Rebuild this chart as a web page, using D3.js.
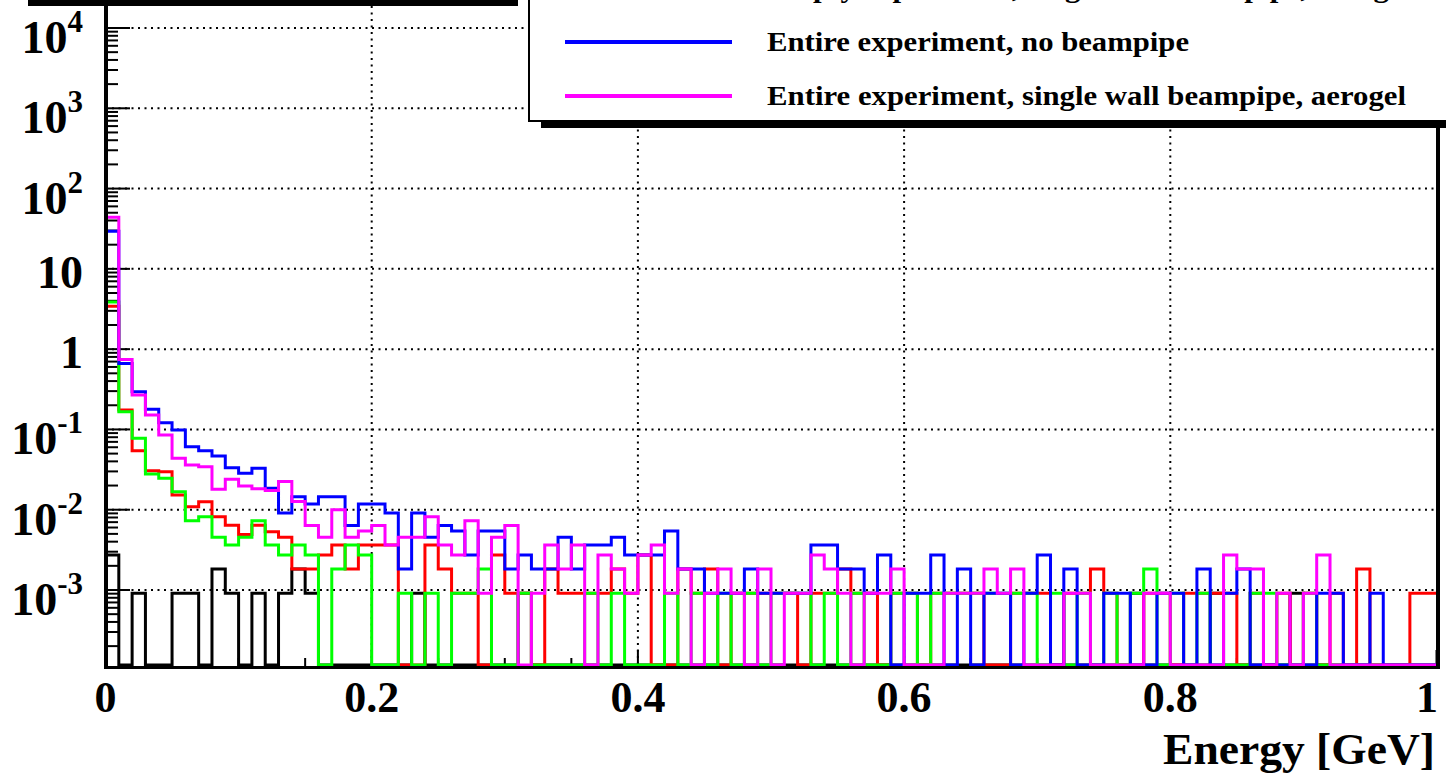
<!DOCTYPE html>
<html><head><meta charset="utf-8">
<script src="https://cdn.jsdelivr.net/npm/d3@7"></script>
<style>
html,body{margin:0;padding:0;background:#fff;}
svg{display:block;font-family:"Liberation Serif","Times New Roman",Times,serif;font-weight:bold;}
</style>
</head><body>
<svg id="chart" width="1446" height="773"></svg>
<script>
// ---------- data ----------
const nBins = 100, eMin = 0, eMax = 1;

const blackVals = [0.00273,0,0.00091,0,0,0.00091,0.00091,0,0.00182,0.00091,
0,0.00091,0,0.00091,0.00182,0.00091,0,0,0,0,
0,0,0,0.00091,0,0,0,0,0,0,
0,0.00091,0,0,0,0,0,0,0,0,
0,0,0,0,0,0,0,0,0,0,
0,0,0,0,0,0,0,0,0,0,
0,0,0,0,0,0,0,0,0,0,
0,0,0,0,0,0,0,0.00091,0,0,
0,0,0,0.00091,0,0,0,0,0,0.00091,
0,0,0,0,0,0,0,0,0,0];

const redVals = [3.43,0.174,0.0543,0.0306,0.0298,0.0153,0.0109,0.0126,0.0082,0.0064,
0.0049,0.0064,0.0053,0.00455,0.00182,0.00182,0.00273,0.00364,0.00182,0.00364,
0.00364,0.00364,0,0,0.00364,0.00182,0.00091,0.00091,0,0.00273,
0.00091,0.00091,0,0.00182,0.00091,0.00091,0.00091,0.00091,0.00182,0.00091,
0.00273,0,0,0.00182,0.00091,0.00182,0,0.00091,0.00091,0.00091,
0.00091,0.00091,0,0.00091,0.00091,0.00182,0.00091,0.00091,0,0.00091,
0.00091,0,0.00091,0.00091,0.00091,0.00091,0,0,0.00091,0.00091,
0.00091,0,0.00091,0.00091,0.00182,0.00091,0,0,0.00091,0.00091,
0,0.00091,0.00091,0.00091,0.00091,0,0.00091,0,0.00091,0,
0.00091,0,0.00091,0,0.00182,0,0,0,0.00091,0.00091];

const greenVals = [3.87,0.166,0.0774,0.0279,0.0246,0.0168,0.0073,0.0082,0.00455,0.00364,
0.00455,0.0073,0.00364,0.00273,0.00364,0.00273,0,0.00182,0.00364,0.00273,
0,0,0.00091,0,0.00091,0,0.00091,0.00091,0.00182,0,
0,0.00091,0,0,0,0,0.00091,0,0.00091,0,
0,0,0.00091,0,0.00091,0,0.00091,0,0.00091,0,
0.00091,0.00091,0.00091,0,0.00091,0,0.00091,0,0,0.00091,
0.00091,0,0.00091,0.00091,0.00091,0.00091,0.00091,0.00091,0.00091,0.00091,
0,0.00091,0,0.00091,0,0.00091,0,0.00091,0.00182,0,
0.00091,0,0.00091,0,0,0,0.00091,0.00091,0,0,
0.00091,0,0,0,0,0,0,0,0,0];

const blueVals = [29.3,0.664,0.294,0.178,0.121,0.0984,0.061,0.0543,0.0467,0.0334,
0.0284,0.0328,0.0185,0.00909,0.01455,0.0118,0.01455,0.01455,0.00636,0.0118,
0.0118,0.00909,0.00182,0.00909,0.00455,0.00636,0.00545,0.00273,0.00545,0.00545,
0.00182,0.00273,0.00182,0.00182,0.00455,0.00182,0.00364,0.00364,0.00455,0.00273,
0.00273,0.00273,0.00545,0.00182,0.00182,0.00091,0.00091,0.00091,0.00182,0.00091,
0.00091,0.00091,0.00091,0.00364,0.00364,0.00182,0.00182,0.00091,0.00273,0,
0.00091,0.00091,0.00273,0,0.00182,0,0.00091,0.00091,0,0.00091,
0.00273,0,0.00182,0,0,0.00091,0.00091,0,0,0.00091,
0.00091,0,0.00182,0,0.00091,0.00182,0,0,0,0,
0,0.00091,0.00091,0,0,0.00091,0,0,0,0];

const magentaVals = [44,0.745,0.268,0.151,0.0852,0.0437,0.036,0.0344,0.018,0.0239,
0.0198,0.0183,0.0173,0.0224,0.0127,0.00636,0.00455,0.01,0.00455,0.00545,
0.00636,0.00364,0.00455,0.00455,0.00818,0.00364,0.00273,0.00727,0.00091,0.00455,
0.00636,0,0.00091,0.00364,0.00182,0.00364,0,0.00273,0.00182,0.00091,
0.00273,0.00364,0.00091,0.00182,0,0.00091,0.00182,0.00091,0,0.00182,
0,0.00091,0.00091,0.00273,0.00182,0.00091,0,0.00091,0.00091,0.00182,
0,0,0,0.00091,0.00091,0.00091,0.00182,0.00091,0.00182,0,
0,0,0.00091,0.00091,0,0,0,0,0.00091,0.00091,
0,0,0,0,0.00273,0.00182,0.00182,0,0.00091,0,
0.00091,0.00273,0,0,0,0,0,0,0,0];

const seriesNames = ["black","red","green","blue","magenta"];
const seriesColors = ["#000000","#ff0000","#00ff00","#0000ff","#ff00ff"];

const xTickValues = [0,0.2,0.4,0.6,0.8,1];
const xTickLabels = ["0","0.2","0.4","0.6","0.8","1"];
const yTickValues = [1e-3,1e-2,1e-1,1,10,100,1e3,1e4];
const yTickBase = ["10","10","10","1","10","10","10","10"];
const yTickExp  = ["-3","-2","-1","","","2","3","4"];
const xTitle = "Energy [GeV]";

const legendLabels = ["Empty experiment, single wall beampipe, aerogel",
                      "Entire experiment, no beampipe",
                      "Entire experiment, single wall beampipe, aerogel"];
const legendColors = ["#00ff00","#0000ff","#ff00ff"];

// ---------- layout ----------
const svg = d3.select("#chart");
const x = d3.scaleLinear().domain([eMin, eMax]).range([105.5, 1436.5]);
const y = d3.scaleLog().domain([1e-3, 1e4]).range([590, 28]);
const yBottom = 665;
const yv = v => (v > 0 ? Math.min(y(v), yBottom) : yBottom);
const binW = (eMax - eMin) / nBins;

// title box shadow (cropped at top)
svg.append("rect").attr("x", 28).attr("y", -60).attr("width", 490).attr("height", 66).attr("fill", "#000");
svg.append("rect").attr("x", 20).attr("y", -66).attr("width", 490).attr("height", 66).attr("fill", "#fff");

// grid
const grid = svg.append("g").attr("stroke", "#000").attr("stroke-width", 2).attr("stroke-dasharray", "2,4.5");
yTickValues.forEach(v => {
  grid.append("line").attr("x1", x(eMin)).attr("x2", x(eMax)).attr("y1", y(v)).attr("y2", y(v));
});
xTickValues.filter(v => v > eMin && v < eMax).forEach(v => {
  grid.append("line").attr("x1", x(v)).attr("x2", x(v)).attr("y1", 6).attr("y2", yBottom);
});

// ticks
const ticks = svg.append("g").attr("stroke", "#000").attr("stroke-width", 2);
for (let d = -4; d <= 4; d++) {
  for (let k = 1; k <= 9; k++) {
    const v = k * Math.pow(10, d);
    const py = y(v);
    if (py < 0 || py > yBottom) continue;
    ticks.append("line").attr("x1", 106).attr("x2", k === 1 ? 130 : 118).attr("y1", py).attr("y2", py);
  }
}
d3.range(0, 1.0001, 0.05).forEach(v => {
  const major = Math.abs(v / 0.2 - Math.round(v / 0.2)) < 1e-6;
  ticks.append("line").attr("x1", x(v)).attr("x2", x(v)).attr("y1", 667).attr("y2", major ? 650 : 658);
});

// histograms
const edges = d3.range(nBins + 1).map(i => eMin + i * binW);
const lineGen = d3.line().x(d => x(d[0])).y(d => yv(d[1])).curve(d3.curveStepAfter);
[blackVals, redVals, greenVals, blueVals, magentaVals].forEach((vals, si) => {
  const pts = vals.map((v, i) => [edges[i], v]);
  pts.push([edges[nBins], vals[nBins - 1]]);
  svg.append("path").attr("d", lineGen(pts)).attr("fill", "none")
    .attr("stroke", seriesColors[si]).attr("stroke-width", 3).attr("stroke-linejoin", "miter")
    .attr("class", "hist-" + seriesNames[si]);
});

// frame / axis lines
svg.append("line").attr("x1", 106).attr("x2", 106).attr("y1", 0).attr("y2", 669).attr("stroke", "#000").attr("stroke-width", 4);
svg.append("line").attr("x1", 104).attr("x2", 1440).attr("y1", 667.5).attr("y2", 667.5).attr("stroke", "#000").attr("stroke-width", 3);
svg.append("line").attr("x1", 1438).attr("x2", 1438).attr("y1", 120).attr("y2", 669).attr("stroke", "#000").attr("stroke-width", 4);

// x labels
xTickValues.forEach((v, i) => {
  const t = svg.append("text").attr("y", 712).attr("font-size", 44).text(xTickLabels[i]);
  if (i === xTickValues.length - 1) t.attr("x", 1438).attr("text-anchor", "end");
  else t.attr("x", x(v)).attr("text-anchor", "middle");
});
svg.append("text").attr("x", 1435).attr("y", 764).attr("font-size", 44).attr("text-anchor", "end")
  .attr("textLength", 272).attr("lengthAdjust", "spacingAndGlyphs").text(xTitle);

// y labels
yTickValues.forEach((v, i) => {
  const hasExp = yTickExp[i] !== "";
  const t = svg.append("text").attr("x", 83).attr("y", y(v) + (hasExp ? 25 : 19))
    .attr("font-size", 46).attr("text-anchor", "end");
  t.append("tspan").text(yTickBase[i]);
  if (hasExp) t.append("tspan").attr("font-size", 31).attr("dy", -21).text(yTickExp[i]);
});

// legend (top part cropped by the page edge, as in the reference)
svg.append("rect").attr("x", 541).attr("y", -300).attr("width", 1000).attr("height", 428).attr("fill", "#000");
svg.append("rect").attr("x", 529).attr("y", -300).attr("width", 1000).attr("height", 421)
  .attr("fill", "#fff").attr("stroke", "#000").attr("stroke-width", 2);
const legendRowY = [-12, 42, 96];
const legendWidths = [644, 422, 639];
legendLabels.forEach((lab, i) => {
  svg.append("line").attr("x1", 565).attr("x2", 732).attr("y1", legendRowY[i]).attr("y2", legendRowY[i])
    .attr("stroke", legendColors[i]).attr("stroke-width", 4);
  svg.append("text").attr("x", 767).attr("y", legendRowY[i] + 9).attr("font-size", 28)
    .attr("textLength", legendWidths[i]).attr("lengthAdjust", "spacingAndGlyphs").text(lab);
});
</script>
</body></html>
